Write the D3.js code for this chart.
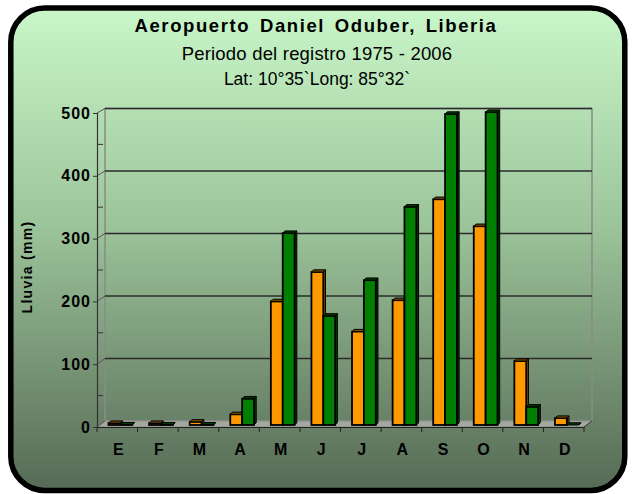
<!DOCTYPE html>
<html><head><meta charset="utf-8">
<script src="https://cdn.jsdelivr.net/npm/d3@7"></script>
<style>html,body{margin:0;padding:0;background:#fff}svg{display:block}</style>
</head><body><svg id="c" width="632" height="494"></svg>
<script>
const months = ["E","F","M","A","M","J","J","A","S","O","N","D"];
const seriesNames = ["s1","s2"];
const seriesA = [3, 3, 5, 17, 197, 244, 149, 199, 360, 317, 102, 11];
const seriesB = [0.5, 0.5, 0.5, 42, 306, 174, 231, 348, 496, 499, 29, 0];
const yTicks = [0, 100, 200, 300, 400, 500];
const titleLines = ["Aeropuerto Daniel Oduber, Liberia", "Periodo del registro 1975 - 2006", "Lat: 10°35`Long: 85°32`"];
const yTitle = "Lluvia (mm)";
const colors = ["#ff9900", "#007f00"];
const capColors = ["#7a4a00", "#003a00"];

const FONT = "'Liberation Sans', Arial, sans-serif";
const svg = d3.select("#c");
const defs = svg.append("defs");
const g1 = defs.append("linearGradient").attr("id","bg").attr("x1",0).attr("y1",0).attr("x2",0).attr("y2",1);
g1.append("stop").attr("offset","0").attr("stop-color","#c9f7c9");
g1.append("stop").attr("offset","0.45").attr("stop-color","#9cc49a");
g1.append("stop").attr("offset","1").attr("stop-color","#566a55");

svg.append("rect").attr("x",10.8).attr("y",8).attr("width",614).attr("height",482.5)
  .attr("rx",34).attr("ry",34).attr("fill","url(#bg)").attr("stroke","#000").attr("stroke-width",5.5);

// titles
const tt = svg.append("g").attr("font-family",FONT).attr("text-anchor","middle").attr("fill","#000");
tt.append("text").attr("x",316).attr("y",31.5).attr("font-size",18.5).attr("font-weight","bold")
  .attr("letter-spacing",1.6).attr("word-spacing",3).text(titleLines[0]);
tt.append("text").attr("x",317).attr("y",60).attr("font-size",18.5).attr("letter-spacing",0.2).text(titleLines[1]);
tt.append("text").attr("x",317).attr("y",85).attr("font-size",17.5).attr("letter-spacing",0).text(titleLines[2]);

// scales
const DX = 8;
const x = d3.scaleBand().domain(d3.range(months.length)).range([97, 584]).padding(0);
const bw = x.bandwidth();
const xs = d3.scaleBand().domain(seriesNames).range([bw*0.21, bw*0.795]).padding(0);
const yF = d3.scaleLinear().domain([0,500]).range([427, 113]);
const yB = d3.scaleLinear().domain([0,500]).range([421, 108.5]);
const yM = d3.scaleLinear().domain([0,500]).range([425, 111.5]);

const plot = svg.append("g");
plot.append("rect").attr("x",97+DX).attr("y",yB(500)).attr("width",487).attr("height",yB(0)-yB(500))
  .attr("fill","none").attr("stroke","#8a8a8a").attr("stroke-width",1.5);
plot.append("path").attr("d",`M97,${yF(0)}L584,${yF(0)}L${584+DX},${yB(0)}L${97+DX},${yB(0)}Z`)
  .attr("fill","#a2aaa0").attr("stroke","#8a8a8a").attr("stroke-width",1);
plot.selectAll(".grid").data(yTicks.filter(d=>d>0)).join("line")
  .attr("x1",97+DX).attr("x2",584+DX).attr("y1",d=>yB(d)).attr("y2",d=>yB(d))
  .attr("stroke","#2b2b2b").attr("stroke-width",1.4);
plot.selectAll(".conn").data(yTicks).join("line")
  .attr("x1",97).attr("y1",d=>yF(d)).attr("x2",97+DX).attr("y2",d=>yB(d))
  .attr("stroke","#555").attr("stroke-width",1);
plot.selectAll(".minor").data(d3.range(50,500,100)).join("line")
  .attr("x1",97).attr("x2",103).attr("y1",d=>yF(d)).attr("y2",d=>yF(d))
  .attr("stroke","#333").attr("stroke-width",1);

// y axis
const yAxis = d3.axisLeft(yF).tickValues(yTicks).tickSize(4).tickPadding(2);
const ya = svg.append("g").attr("transform","translate(97,0)").call(yAxis);
ya.select(".domain").attr("stroke","#333").attr("stroke-width",1.2);
ya.selectAll(".tick line").attr("stroke","#333");
ya.selectAll("text").attr("font-family",FONT).attr("font-size",16)
  .attr("font-weight","bold").attr("letter-spacing",1).attr("fill","#000");

// x axis
const xAxis = d3.axisBottom(x).tickFormat(i=>months[i]).tickSize(0).tickPadding(0);
const xa = svg.append("g").attr("transform",`translate(0,${yF(0)})`).call(xAxis);
xa.select(".domain").attr("stroke","#222").attr("stroke-width",1.2);
xa.selectAll("text").attr("font-family",FONT).attr("font-size",16)
  .attr("font-weight","bold").attr("fill","#000").attr("y",28).attr("dy",0).attr("dx",1);
svg.append("g").selectAll("line").data(d3.range(months.length+1)).join("line")
  .attr("x1",i=>97+i*bw).attr("x2",i=>97+i*bw).attr("y1",yF(0)).attr("y2",yF(0)+5)
  .attr("stroke","#222").attr("stroke-width",1);
svg.append("line").attr("x1",584).attr("y1",yF(0)).attr("x2",584+DX).attr("y2",yB(0)).attr("stroke","#333");

// y title
svg.append("text").attr("transform","translate(32,267) rotate(-90)").attr("text-anchor","middle")
  .attr("font-family",FONT).attr("font-size",14).attr("font-weight","bold")
  .attr("letter-spacing",1.3).text(yTitle);

// bars
const data = months.map((m,i)=>({i, vals:[seriesA[i], seriesB[i]]}));
const cd = 2.2;
const bars = svg.append("g");
data.forEach(d=>{
  seriesNames.forEach((s,k)=>{
    const v = d.vals[k];
    const x0 = x(d.i) + xs(s) + 3;
    const w = xs.bandwidth();
    const yt = yM(v), yb = yM(0);
    const h = Math.max(0, yb-yt);
    bars.append("path").attr("d",`M${x0+w},${yb}L${x0+w+cd},${yb-cd}L${x0+w+cd},${yt-cd}L${x0+w},${yt}Z`)
      .attr("fill",capColors[k]).attr("stroke","#000").attr("stroke-width",1);
    bars.append("rect").attr("x",x0).attr("y",yt).attr("width",w).attr("height",h)
      .attr("fill",colors[k]).attr("stroke","#000").attr("stroke-width",1.8);
    bars.append("path").attr("d",`M${x0},${yt}L${x0+w},${yt}L${x0+w+cd},${yt-cd}L${x0+cd},${yt-cd}Z`)
      .attr("fill",capColors[k]).attr("stroke","#000").attr("stroke-width",1);
  });
});
</script></body></html>
